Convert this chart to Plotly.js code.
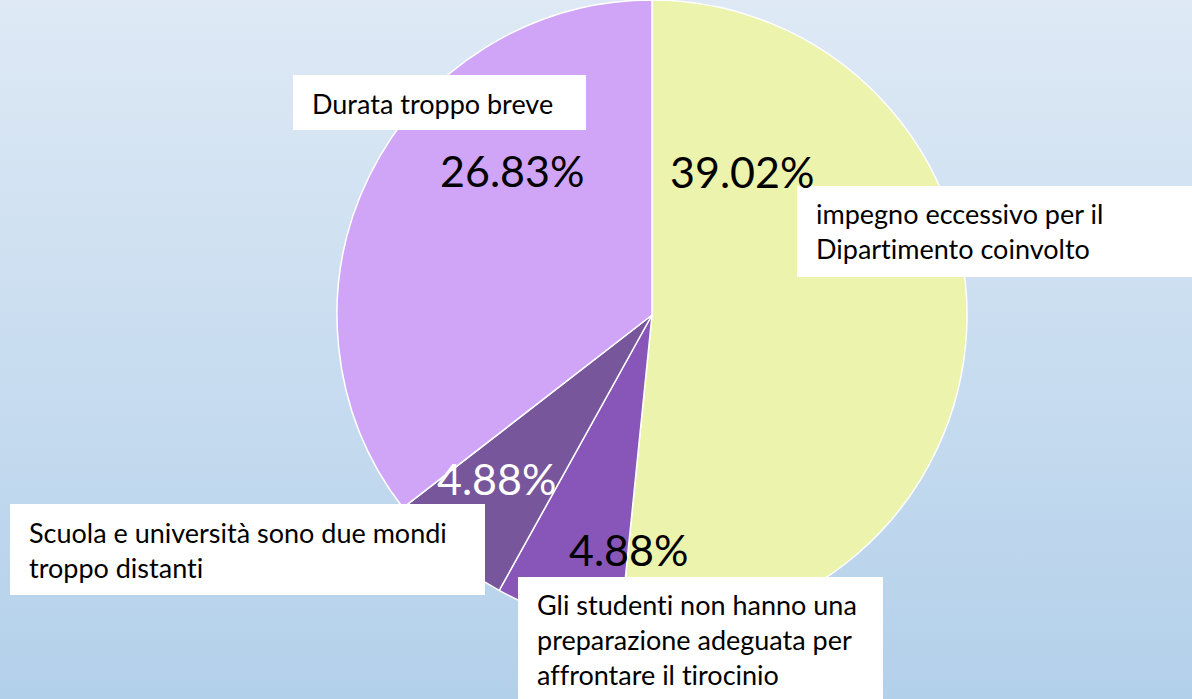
<!DOCTYPE html>
<html>
<head>
<meta charset="utf-8">
<script src="https://cdn.plot.ly/plotly-3.0.1.min.js"></script>
<style>
  html, body { margin:0; padding:0; width:1192px; height:699px; overflow:hidden;
    background: linear-gradient(to bottom, #DEE9F5 0%, #C9DDF0 50%, #B3D0EA 100%); }
  #chart { width:1192px; height:699px; }
  #chart text { font-variant-ligatures: none; font-feature-settings: "liga" 0, "clig" 0; }
</style>
</head>
<body>
<div id="chart"></div>
<script>
// ---- data ----
const categories = [
  "impegno eccessivo per il Dipartimento coinvolto",
  "Gli studenti non hanno una preparazione adeguata per affrontare il tirocinio",
  "Scuola e università sono due mondi troppo distanti",
  "Durata troppo breve"
];
const labelText = [
  "impegno eccessivo per il<br>Dipartimento coinvolto",
  "Gli studenti non hanno una<br>preparazione adeguata per<br>affrontare il tirocinio",
  "Scuola e università sono due mondi<br>troppo distanti",
  "Durata troppo breve"
];
const values = [39.02, 4.88, 4.88, 26.83];

// ---- styling ----
const W = 1192, H = 699;
const px = x => x / W;
const py = y => 1 - y / H;
const sliceColors = ["#EBF3AD", "#8855B8", "#77569B", "#D0A5F7"];
const pctColors = ["#000000", "#000000", "#FFFFFF", "#000000"];
const FONT = "Lato, 'Open Sans', sans-serif";

// label boxes (pixel geometry of the callout boxes)
const boxes = [
  {x0: 797, x1: 1200, y0: 186, y1: 277, tx: 814},
  {x0: 518, x1: 883,  y0: 577, y1: 710, tx: 535},
  {x0: 10,  x1: 485,  y0: 504, y1: 595, tx: 27},
  {x0: 293, x1: 586,  y0: 75,  y1: 130, tx: 310}
];
const boxTextY = [231, 639, 550, 103];
// percentage label positions (pixel centers)
const pctPos = [[742, 171], [628, 549], [496, 478], [512, 170]];

const cx = 652, cy = 315, r = 315;

const trace = {
  type: "pie",
  labels: categories,
  values: values,
  sort: false,
  direction: "clockwise",
  rotation: 0,
  textinfo: "none",
  hoverinfo: "label+text",
  text: values.map(v => v.toFixed(2) + "%"),
  marker: { colors: sliceColors, line: { color: "#FFFFFF", width: 1.5 } },
  domain: { x: [px(cx - r), px(cx + r)], y: [py(cy + r), py(cy - r)] },
  showlegend: false
};

const shapes = boxes.map(b => ({
  type: "rect", xref: "paper", yref: "paper",
  x0: px(b.x0), x1: px(b.x1), y0: py(b.y1), y1: py(b.y0),
  fillcolor: "#FFFFFF", line: { width: 0 }, layer: "above"
}));

const annotations = [];
labelText.forEach((t, i) => {
  annotations.push({
    xref: "paper", yref: "paper", x: px(boxes[i].tx), y: py(boxTextY[i]),
    xanchor: "left", yanchor: "middle", align: "left", showarrow: false,
    text: t, font: { family: FONT, size: 27, color: "#000000" }
  });
});
values.forEach((v, i) => {
  annotations.push({
    xref: "paper", yref: "paper", x: px(pctPos[i][0]), y: py(pctPos[i][1]),
    xanchor: "center", yanchor: "middle", showarrow: false,
    text: v.toFixed(2) + "%", font: { family: FONT, size: 43, color: pctColors[i] }
  });
});

const layout = {
  width: W, height: H,
  margin: { l: 0, r: 0, t: 0, b: 0 },
  paper_bgcolor: "rgba(0,0,0,0)",
  plot_bgcolor: "rgba(0,0,0,0)",
  showlegend: false,
  shapes: shapes,
  annotations: annotations
};

Plotly.newPlot("chart", [trace], layout, { displayModeBar: false, staticPlot: true });
</script>
</body>
</html>
